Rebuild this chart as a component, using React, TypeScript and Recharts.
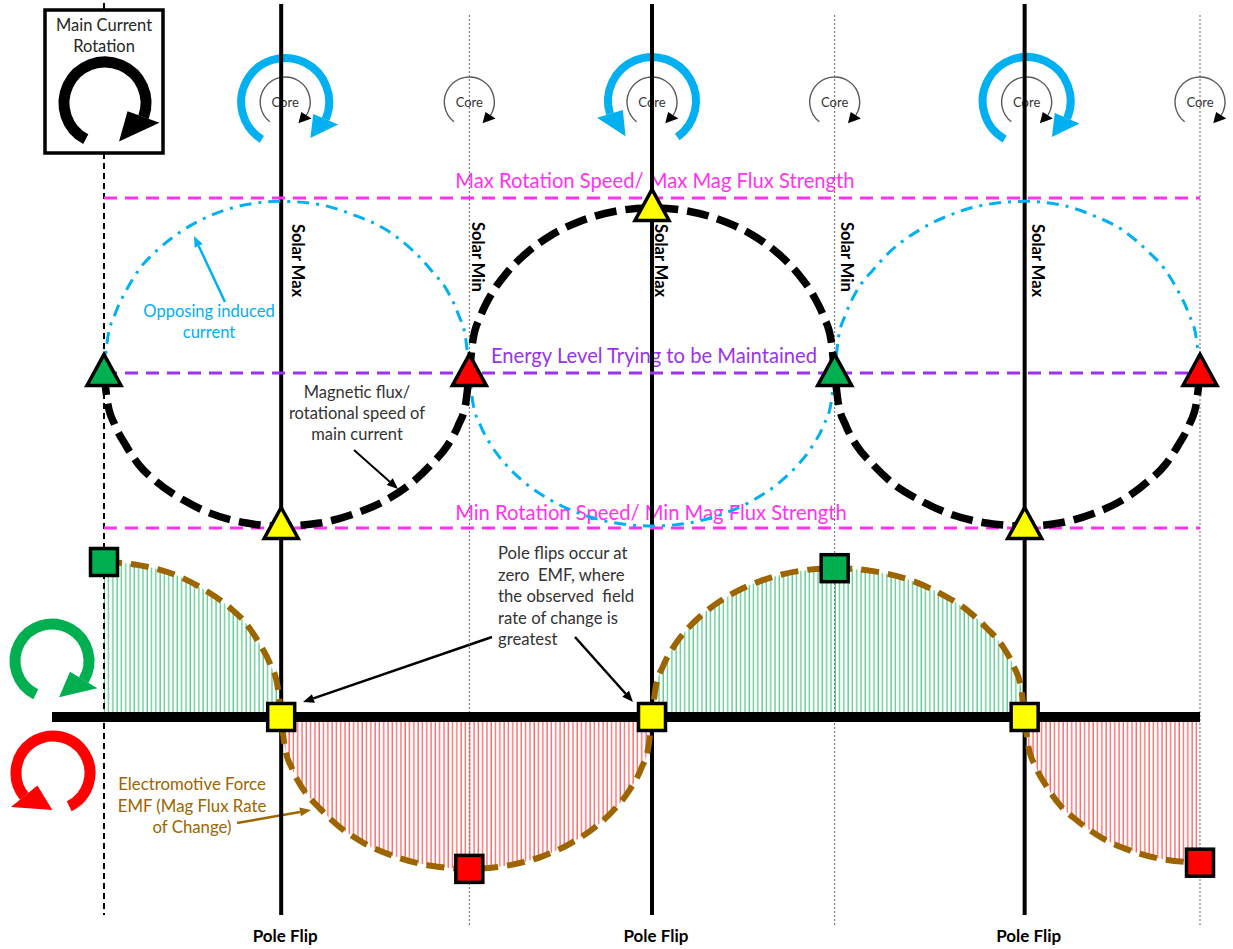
import React from "react";
import { ComposedChart, XAxis, YAxis, Line, Area, Scatter, ReferenceLine } from "recharts";

// phase of the cycle (0 = start, 1 ~ solar max / pole flip, 2 ~ solar min ...)
const SOLAR_MAX = [0.97, 3.0, 5.04];
const SOLAR_MIN = [2.0, 4.0, 6.0];
const START_PHASE = 0;

// main current rotation speed (0 = min line, 100 = max line, 47 = energy level)
const LEVEL_MAX = 100;
const LEVEL_MIN = 0;
const LEVEL_ENERGY = 47;

const FLUX_PHASE = [
  0, 0.02, 0.06, 0.12, 0.19, 0.29, 0.44, 0.58, 0.78, 0.97, 1.18, 1.38, 1.54, 1.69, 1.79, 1.88, 1.94, 1.98, 2.0,
  2.02, 2.06, 2.12, 2.2, 2.3, 2.45, 2.6, 2.8, 3.0, 3.2, 3.4, 3.55, 3.7, 3.8, 3.88, 3.94, 3.98, 4.0,
  4.02, 4.06, 4.12, 4.21, 4.31, 4.47, 4.62, 4.83, 5.04, 5.23, 5.42, 5.57, 5.71, 5.81, 5.88, 5.94, 5.98, 6.0,
];
const FLUX = [
  47, 37.8, 31.2, 25.0, 19.2, 13.9, 8.3, 4.5, 1.5, 0.6, 1.5, 4.5, 8.3, 13.9, 19.2, 25.0, 31.2, 37.8, 47,
  57, 64, 70.8, 77, 82.7, 88.8, 92.8, 96, 97, 96, 92.8, 88.8, 82.7, 77, 70.8, 64, 57, 47,
  37.8, 31.2, 25.0, 19.2, 13.9, 8.3, 4.5, 1.5, 0.6, 1.5, 4.5, 8.3, 13.9, 19.2, 25.0, 31.2, 37.8, 47,
];
const INDUCED = [
  47, 57.4, 64.7, 71.8, 78.2, 84.1, 90.5, 94.6, 98, 99, 98, 94.6, 90.5, 84.1, 78.2, 71.8, 64.7, 57.4, 47,
  37.8, 31.2, 25.0, 19.2, 13.9, 8.3, 4.5, 1.5, 0.6, 1.5, 4.5, 8.3, 13.9, 19.2, 25.0, 31.2, 37.8, 47,
  57.4, 64.7, 71.8, 78.2, 84.1, 90.5, 94.6, 98, 99, 98, 94.6, 90.5, 84.1, 78.2, 71.8, 64.7, 57.4, 47,
];

// electromotive force (mag flux rate of change)
const EMF_PHASE = [
  0, 0.19, 0.39, 0.53, 0.68, 0.78, 0.85, 0.91, 0.95, 0.97,
  0.99, 1.03, 1.09, 1.18, 1.28, 1.43, 1.59, 1.79, 2.0, 2.2, 2.4, 2.55, 2.7, 2.8, 2.88, 2.94, 2.98, 3.0,
  3.02, 3.06, 3.12, 3.2, 3.3, 3.45, 3.6, 3.8, 4.0, 4.21, 4.42, 4.57, 4.73, 4.83, 4.92, 4.98, 5.02, 5.04,
  5.06, 5.1, 5.16, 5.23, 5.33, 5.47, 5.62, 5.81, 6.0,
];
const EMF = [
  100, 98, 91.7, 83.5, 71.4, 60, 47.5, 34.1, 19.9, 0,
  -19.5, -33.4, -46.6, -58.8, -70, -81.8, -89.9, -96, -98, -96, -89.9, -81.8, -70, -58.8, -46.6, -33.4, -19.5, 0,
  19.1, 32.7, 45.6, 57.6, 68.5, 80.2, 88, 94.1, 96, 94.1, 88, 80.2, 68.5, 57.6, 45.6, 32.7, 19.1, 0,
  -18.7, -32.1, -44.7, -56.4, -67.1, -78.5, -86.2, -92.1, -94,
];

const MARK_PHASE = [0, 0.97, 2, 3, 4, 5.04, 6];
const MARK_FLUX = [47, 0.6, 47, 97, 47, 0.6, 47];
const MARK_EMF = [100, 0, -98, 0, 96, 0, -94];
const MARK_COLOR = ["#00b050", "#ffff00", "#ff0000", "#ffff00", "#00b050", "#ffff00", "#ff0000"];

const W = 1233;
const H = 949;
const X_DOMAIN: [number, number] = [-0.5693, 6.1806];
const FLUX_DOMAIN: [number, number] = [-127.58, 160];
const EMF_DOMAIN: [number, number] = [-149.68, 462.58];
const FONT = "Lato, 'Open Sans', sans-serif";

const px = (p: number) => ((p - X_DOMAIN[0]) / (X_DOMAIN[1] - X_DOMAIN[0])) * W;
const fy = (v: number) => ((FLUX_DOMAIN[1] - v) / (FLUX_DOMAIN[1] - FLUX_DOMAIN[0])) * H;
const fluxAt = (py: number) => FLUX_DOMAIN[1] - (py / H) * (FLUX_DOMAIN[1] - FLUX_DOMAIN[0]);
const phaseAt = (x: number) => X_DOMAIN[0] + (x / W) * (X_DOMAIN[1] - X_DOMAIN[0]);

function CurvedArrow({ cx, cy, r, from, to, width, color, headDeg, headW }: any) {
  const rad = (a: number) => (a * Math.PI) / 180;
  const pt = (a: number, rr = r) => [cx + rr * Math.cos(rad(a)), cy + rr * Math.sin(rad(a))];
  const cw = to > from;
  const [x0, y0] = pt(from);
  const [x1, y1] = pt(to);
  const large = Math.abs(to - from) > 180 ? 1 : 0;
  const tip = pt(to + (cw ? headDeg : -headDeg));
  const b1 = pt(to, r + headW / 2);
  const b2 = pt(to, r - headW / 2);
  return (
    <g>
      <path d={`M${x0},${y0} A${r},${r} 0 ${large} ${cw ? 1 : 0} ${x1},${y1}`} fill="none" stroke={color} strokeWidth={width} />
      <polygon points={`${b1[0]},${b1[1]} ${tip[0]},${tip[1]} ${b2[0]},${b2[1]}`} fill={color} />
    </g>
  );
}

function Arrow({ x1, y1, x2, y2, color, width = 2, head = 11, headW = 9 }: any) {
  const dx = x2 - x1;
  const dy = y2 - y1;
  const len = Math.hypot(dx, dy);
  const ux = dx / len;
  const uy = dy / len;
  const bx = x2 - ux * head;
  const by = y2 - uy * head;
  return (
    <g>
      <line x1={x1} y1={y1} x2={bx} y2={by} stroke={color} strokeWidth={width} />
      <polygon
        points={`${x2},${y2} ${bx - uy * headW / 2},${by + ux * headW / 2} ${bx + uy * headW / 2},${by - ux * headW / 2}`}
        fill={color}
      />
    </g>
  );
}

const Triangle = (props: any) => {
  const { cx, cy, payload } = props;
  const w = 34;
  const h = 31;
  const c = cy - 3;
  return (
    <polygon
      points={`${cx},${c - h / 2} ${cx + w / 2},${c + h / 2} ${cx - w / 2},${c + h / 2}`}
      fill={payload.color}
      stroke="#000"
      strokeWidth={3.5}
    />
  );
};

const Square = (props: any) => {
  const { cx, cy, payload } = props;
  const s = 27;
  return <rect x={cx - s / 2} y={cy - s / 2} width={s} height={s} fill={payload.color} stroke="#000" strokeWidth={3.5} />;
};

export default function App() {
  const fluxData = FLUX_PHASE.map((p, i) => ({ p, flux: FLUX[i], induced: INDUCED[i] }));
  const emfData = EMF_PHASE.map((p, i) => ({ p, emf: EMF[i], pos: Math.max(EMF[i], 0), neg: Math.min(EMF[i], 0) }));
  const triData = MARK_PHASE.map((p, i) => ({ p, v: MARK_FLUX[i], color: MARK_COLOR[i] }));
  const sqData = MARK_PHASE.map((p, i) => ({ p, v: MARK_EMF[i], color: MARK_COLOR[i] }));

  const vTop = fluxAt(4);
  const vBottom = fluxAt(915);
  const dotTop = fluxAt(15);
  const dotBottom = fluxAt(927);
  const maxOff = [11, 3, 7];
  const minOff = [3, 6];
  const cores = [px(SOLAR_MAX[0]) + 4, px(SOLAR_MIN[0]), px(SOLAR_MAX[1]), px(SOLAR_MIN[1]), px(SOLAR_MAX[2]) + 2, px(SOLAR_MIN[2])];

  return (
    <div style={{ position: "absolute", left: 0, top: 0, width: W, height: H, background: "#fff", fontFamily: FONT }}>
      <svg width={W} height={H} style={{ position: "absolute", left: 0, top: 0 }} fontFamily={FONT}>
        {/* main current rotation box */}
        <rect x={45} y={10} width={118} height={143} fill="#fff" stroke="#000" strokeWidth={3.5} />
        <text x={104} y={31} textAnchor="middle" fontSize={16.5} fill="#262626">Main Current</text>
        <text x={104} y={52} textAnchor="middle" fontSize={16.5} fill="#262626">Rotation</text>
        <CurvedArrow cx={105} cy={103} r={41} from={118} to={380} width={11} color="#000" headDeg={50} headW={34} />

        {/* core rotation icons */}
        {cores.map((cx, i) => (
          <g key={`core${i}`}>
            <CurvedArrow cx={cx} cy={102} r={25} from={128} to={392} width={1.4} color="#595959" headDeg={0.01} headW={0} />
            <CurvedArrow cx={cx} cy={102} r={25} from={380} to={392} width={0} color="#000" headDeg={26} headW={12} />
            <text x={cx} y={107} textAnchor="middle" fontSize={13} fill="#333">Core</text>
          </g>
        ))}
        <CurvedArrow cx={cores[0]} cy={102} r={44} from={122} to={383} width={8} color="#00b0f0" headDeg={32} headW={27} />
        <CurvedArrow cx={cores[2]} cy={101} r={44} from={55} to={-197} width={8} color="#00b0f0" headDeg={36} headW={27} />
        <CurvedArrow cx={cores[4]} cy={101} r={44} from={120} to={383} width={8} color="#00b0f0" headDeg={32} headW={27} />

        {/* EMF direction icons */}
        <CurvedArrow cx={52} cy={661} r={37} from={116} to={391} width={11} color="#00b050" headDeg={48} headW={32} />
        <CurvedArrow cx={53} cy={773} r={37} from={64} to={-219} width={11} color="#ff0000" headDeg={50} headW={34} />

        {/* level labels */}
        <text x={px(3) + 3} y={fy(LEVEL_MAX) - 10} textAnchor="middle" fontSize={20.2} fill="#ff33ee">
          Max Rotation Speed/ Max Mag Flux Strength
        </text>
        <text x={px(3) + 2} y={fy(LEVEL_ENERGY) - 10} textAnchor="middle" fontSize={20.2} fill="#9933ee">
          Energy Level Trying to be Maintained
        </text>
        <text x={px(3) - 1} y={fy(LEVEL_MIN) - 8} textAnchor="middle" fontSize={20.2} fill="#ff33ee">
          Min Rotation Speed/ Min Mag Flux Strength
        </text>

        {SOLAR_MAX.map((p, i) => (
          <text key={`smax${i}`} transform={`translate(${px(p) + maxOff[i]},224) rotate(90)`} fontSize={16.5} fontWeight="bold" fill="#000">
            Solar Max
          </text>
        ))}
        {SOLAR_MIN.slice(0, 2).map((p, i) => (
          <text key={`smin${i}`} transform={`translate(${px(p) + minOff[i]},222) rotate(90)`} fontSize={16.5} fontWeight="bold" fill="#000">
            Solar Min
          </text>
        ))}
        {SOLAR_MAX.map((p, i) => (
          <text key={`pf${i}`} x={px(p) + 4} y={942} textAnchor="middle" fontSize={17} fontWeight="bold" fill="#000">
            Pole Flip
          </text>
        ))}

        {/* annotations */}
        <text x={209} y={317} textAnchor="middle" fontSize={16.5} fill="#00b0f0">Opposing induced</text>
        <text x={209} y={338} textAnchor="middle" fontSize={16.5} fill="#00b0f0">current</text>
        <Arrow x1={225} y1={302} x2={194} y2={236} color="#00b0f0" width={2.5} />

        <text x={357} y={398} textAnchor="middle" fontSize={16.5} fill="#333">Magnetic flux/</text>
        <text x={357} y={419} textAnchor="middle" fontSize={16.5} fill="#333">rotational speed of</text>
        <text x={357} y={440} textAnchor="middle" fontSize={16.5} fill="#333">main current</text>
        <Arrow x1={354} y1={450} x2={398} y2={489} color="#000" width={2} />

        {["Pole flips occur at", "zero  EMF, where", "the observed  field", "rate of change is", "greatest"].map((t, i) => (
          <text key={`pfn${i}`} x={498} y={559 + i * 21.6} fontSize={16.7} fill="#333" xmlSpace="preserve">
            {t}
          </text>
        ))}
        <Arrow x1={492} y1={637} x2={303} y2={702} color="#000" width={2.5} />
        <Arrow x1={575} y1={637} x2={633} y2={702} color="#000" width={2.5} />

        <text x={192} y={790} textAnchor="middle" fontSize={16.8} fill="#9c6500">Electromotive Force</text>
        <text x={192} y={812} textAnchor="middle" fontSize={16.8} fill="#9c6500">EMF (Mag Flux Rate</text>
        <text x={192} y={833} textAnchor="middle" fontSize={16.8} fill="#9c6500">of Change)</text>
        <Arrow x1={237} y1={823} x2={311} y2={810} color="#9c6500" width={2.5} />
      </svg>

      <div style={{ position: "absolute", left: 0, top: 0 }}>
        <ComposedChart width={W} height={H} margin={{ top: 0, right: 0, bottom: 0, left: 0 }}>
          <defs>
            <pattern id="hatchGreen" patternUnits="userSpaceOnUse" width={4.3} height={10}>
              <line x1={1} y1={0} x2={1} y2={10} stroke="#00b050" strokeWidth={1} strokeOpacity={0.85} />
            </pattern>
            <pattern id="hatchRed" patternUnits="userSpaceOnUse" width={4.3} height={10}>
              <line x1={1} y1={0} x2={1} y2={10} stroke="#ff0000" strokeWidth={1} strokeOpacity={0.8} />
            </pattern>
          </defs>
          <XAxis type="number" dataKey="p" domain={X_DOMAIN} allowDataOverflow hide />
          <YAxis yAxisId="flux" type="number" domain={FLUX_DOMAIN} allowDataOverflow hide />
          <YAxis yAxisId="emf" type="number" domain={EMF_DOMAIN} allowDataOverflow hide />

          <Area data={emfData} yAxisId="emf" dataKey="pos" type="monotone" baseValue={0} stroke="none" fill="url(#hatchGreen)" fillOpacity={1} isAnimationActive={false} dot={false} activeDot={false} />
          <Area data={emfData} yAxisId="emf" dataKey="neg" type="monotone" baseValue={0} stroke="none" fill="url(#hatchRed)" fillOpacity={1} isAnimationActive={false} dot={false} activeDot={false} />

          {/* phase guide lines */}
          <ReferenceLine yAxisId="flux" segment={[{ x: START_PHASE, y: fluxAt(3) }, { x: START_PHASE, y: fluxAt(10) }]} stroke="#000" strokeWidth={2} />
          <ReferenceLine yAxisId="flux" segment={[{ x: START_PHASE, y: fluxAt(153) }, { x: START_PHASE, y: vBottom }]} stroke="#000" strokeWidth={2} strokeDasharray="6 4" />
          {SOLAR_MAX.map((p) => (
            <ReferenceLine key={`vmax${p}`} yAxisId="flux" segment={[{ x: p, y: vTop }, { x: p, y: vBottom }]} stroke="#000" strokeWidth={4} />
          ))}
          {SOLAR_MIN.map((p) => (
            <ReferenceLine key={`vmin${p}`} yAxisId="flux" segment={[{ x: p, y: dotTop }, { x: p, y: dotBottom }]} stroke="#666" strokeWidth={1} strokeDasharray="2 2" />
          ))}

          {/* level lines */}
          <ReferenceLine yAxisId="flux" segment={[{ x: START_PHASE, y: LEVEL_MAX }, { x: 6, y: LEVEL_MAX }]} stroke="#ff33ee" strokeWidth={3} strokeDasharray="13 8" />
          <ReferenceLine yAxisId="flux" segment={[{ x: START_PHASE, y: LEVEL_MIN }, { x: 6, y: LEVEL_MIN }]} stroke="#ff33ee" strokeWidth={3} strokeDasharray="13 8" />
          <ReferenceLine yAxisId="flux" segment={[{ x: START_PHASE, y: LEVEL_ENERGY }, { x: 6, y: LEVEL_ENERGY }]} stroke="#9933ee" strokeWidth={3} strokeDasharray="13 8" />
          <ReferenceLine yAxisId="emf" segment={[{ x: phaseAt(52), y: 0 }, { x: 6, y: 0 }]} stroke="#000" strokeWidth={10} />

          <Line data={fluxData} yAxisId="flux" dataKey="induced" type="monotone" stroke="#00b0f0" strokeWidth={3} strokeDasharray="12 7 3 7" dot={false} activeDot={false} isAnimationActive={false} />
          <Line data={emfData} yAxisId="emf" dataKey="emf" type="monotone" stroke="#9c6500" strokeWidth={6} strokeDasharray="18 9" dot={false} activeDot={false} isAnimationActive={false} />
          <Line data={fluxData} yAxisId="flux" dataKey="flux" type="monotone" stroke="#000" strokeWidth={7.5} strokeDasharray="22 9" dot={false} activeDot={false} isAnimationActive={false} />

          <Scatter data={triData} yAxisId="flux" dataKey="v" shape={Triangle} isAnimationActive={false} />
          <Scatter data={sqData} yAxisId="emf" dataKey="v" shape={Square} isAnimationActive={false} />
        </ComposedChart>
      </div>
    </div>
  );
}
